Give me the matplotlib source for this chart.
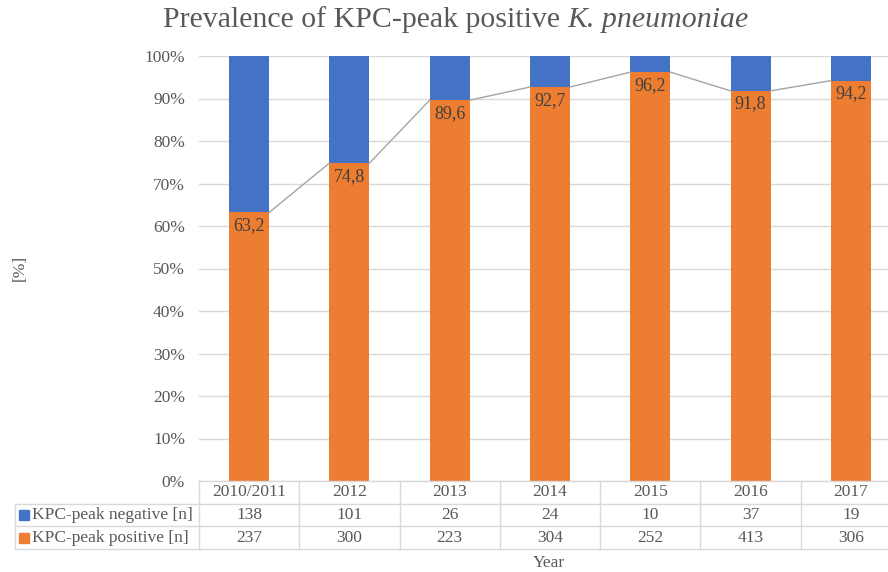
import matplotlib
matplotlib.use("Agg")
import matplotlib.pyplot as plt
from matplotlib.lines import Line2D
from matplotlib.transforms import blended_transform_factory

years = ["2010/2011", "2012", "2013", "2014", "2015", "2016", "2017"]
negative_n = [138, 101, 26, 24, 10, 37, 19]
positive_n = [237, 300, 223, 304, 252, 413, 306]
positive_pct = [63.2, 74.8, 89.6, 92.7, 96.2, 91.8, 94.2]

ORANGE = "#ED7D31"
BLUE = "#4472C4"
GRID = "#D9D9D9"
TEXT = "#595959"
SERIES_LINE = "#A5A5A5"

plt.rcParams["font.family"] = ["Liberation Serif", "DejaVu Serif"]

W, H = 888, 572
fig = plt.figure(figsize=(W / 100, H / 100), dpi=100)
# plot area in pixels: left 199, right 901, top 56, bottom 481
ax = fig.add_axes([199 / W, (H - 481) / H, 702 / W, 425 / H])

x = list(range(len(years)))
neg_pct = [100 - p for p in positive_pct]
bw = 0.4
ax.bar(x, positive_pct, width=bw, color=ORANGE, zorder=2)
ax.bar(x, neg_pct, width=bw, bottom=positive_pct, color=BLUE, zorder=2)

# series lines between bar tops
for i in range(len(x) - 1):
    ax.plot([x[i] + bw / 2, x[i + 1] - bw / 2], [positive_pct[i], positive_pct[i + 1]],
            color=SERIES_LINE, lw=1, zorder=3)

for xi, p in zip(x, positive_pct):
    ax.annotate(f"{p:.1f}".replace(".", ","), (xi, p), xytext=(0, -9.5),
                textcoords="offset points", ha="center", va="center",
                fontsize=13, color="#404040", zorder=4)

ax.set_xlim(-0.5, len(years) - 0.5)
ax.set_ylim(0, 100)
ax.set_yticks(range(0, 101, 10))
ax.set_yticklabels([f"{v}%" for v in range(0, 101, 10)])
ax.tick_params(axis="y", length=0, labelsize=12.5, labelcolor=TEXT, pad=10)
ax.set_xticks([])
ax.grid(axis="y", color=GRID, lw=1, zorder=0)
for s in ax.spines.values():
    s.set_visible(False)

# data table below the plot
tr = blended_transform_factory(ax.transData, fig.transFigure)
fy = lambda py: 1 - py / H
rows_y = [481, 503.7, 526.3, 549]
left_px = 15
legend_left = ax.transData.inverted().transform((left_px, 0))[0]
lk = dict(color=GRID, lw=1, transform=tr, clip_on=False)
fig.add_artist(Line2D([-0.5, 6.5], [fy(rows_y[0])] * 2, **lk))
for ry in rows_y[1:]:
    fig.add_artist(Line2D([legend_left, 6.5], [fy(ry)] * 2, **lk))
fig.add_artist(Line2D([legend_left, legend_left], [fy(rows_y[1]), fy(rows_y[3])], **lk))
for b in range(len(years) + 1):
    fig.add_artist(Line2D([b - 0.5, b - 0.5], [fy(rows_y[0]), fy(rows_y[3])], **lk))

row_mid = [(rows_y[i] + rows_y[i + 1]) / 2 for i in range(3)]
for xi in x:
    fig.text(xi, fy(row_mid[0]), years[xi], transform=tr, ha="center", va="center",
             fontsize=12.5, color=TEXT)
    fig.text(xi, fy(row_mid[1]), str(negative_n[xi]), transform=tr, ha="center",
             va="center", fontsize=12.5, color=TEXT)
    fig.text(xi, fy(row_mid[2]), str(positive_n[xi]), transform=tr, ha="center",
             va="center", fontsize=12.5, color=TEXT)

for label, col, ry in [("KPC-peak negative [n]", BLUE, row_mid[1]),
                       ("KPC-peak positive [n]", ORANGE, row_mid[2])]:
    fig.add_artist(Line2D([24 / W], [fy(ry)], marker="s", markersize=6.5,
                          color=col, transform=fig.transFigure))
    fig.text(32 / W, fy(ry), label, ha="left", va="center", fontsize=12.5, color=TEXT)

# title: roman part + italic species name, placed side by side
renderer = fig.canvas.get_renderer()
t1 = fig.text(0, fy(20), "Prevalence of KPC-peak positive ", ha="left", va="center",
              fontsize=21.5, color=TEXT)
t2 = fig.text(0, fy(20), "K. pneumoniae", ha="left", va="center", fontsize=21.5,
              color=TEXT, style="italic")
w1 = t1.get_window_extent(renderer).width
w2 = t2.get_window_extent(renderer).width
start = 456 - (w1 + w2) / 2
t1.set_x(start / W)
t2.set_x((start + w1) / W)

fig.text(549 / W, fy(563), "Year", ha="center", va="center", fontsize=12.5, color=TEXT)
fig.text(20 / W, fy(268), "[%]", ha="center", va="center", rotation=90,
         fontsize=12.5, color=TEXT)

fig.savefig("out.png", dpi=100)
